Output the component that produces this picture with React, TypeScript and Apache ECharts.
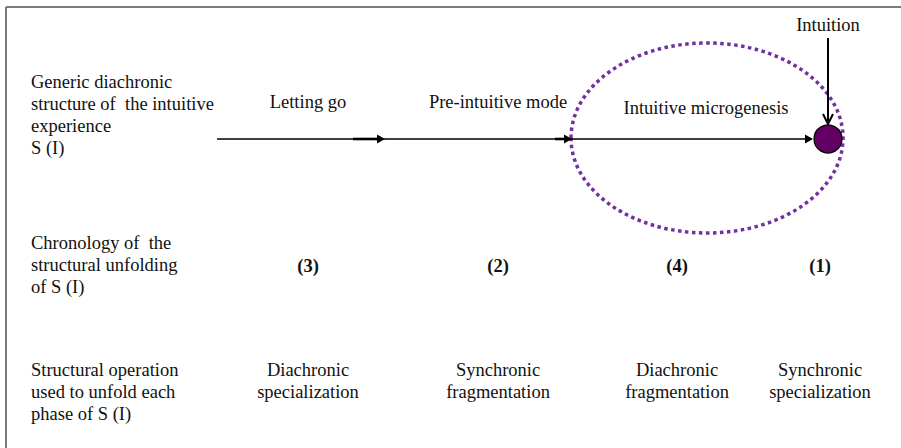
import React, { useEffect, useRef } from "react";
import * as echarts from "echarts";

// ---- content ----
const rowHeadings: string[][] = [
  ["Generic diachronic", "structure of  the intuitive", "experience", "S (I)"],
  ["Chronology of  the", "structural unfolding", "of S (I)"],
  ["Structural operation", "used to unfold each", "phase of S (I)"],
];
const phaseLabels: string[] = ["Letting go", "Pre-intuitive mode", "Intuitive microgenesis"];
const chronology: string[] = ["(3)", "(2)", "(4)", "(1)"];
const operations: string[][] = [
  ["Diachronic", "specialization"],
  ["Synchronic", "fragmentation"],
  ["Diachronic", "fragmentation"],
  ["Synchronic", "specialization"],
];
const topLabel = "Intuition";

// ---- layout (pixels) ----
const FONT = "'Liberation Serif', 'Times New Roman', serif";
const FS = 18.5;
const LH = 22;
const headX = 31;
const headTops = [71, 232, 359];
const colX = [308, 498, 677, 820];
const phaseX = [308, 498, 706];
const phaseY = [102, 102, 108];
const lineY = 139;
const lineX0 = 217;
const arrowTips = [385, 572, 813];
const circle = { cx: 828, cy: 139, r: 14 };
const ellipse = { cx: 707, cy: 138, rx: 136, ry: 95 };

export default function App() {
  const ref = useRef<HTMLDivElement>(null);
  useEffect(() => {
    if (!ref.current) return;
    const chart = echarts.init(ref.current, undefined, { renderer: "svg" });
    const els: any[] = [];
    // border
    els.push({ type: "line", shape: { x1: 6, y1: 7, x2: 901, y2: 7 }, style: { stroke: "#7a7a7a", lineWidth: 2 } });
    els.push({ type: "line", shape: { x1: 6, y1: 7, x2: 6, y2: 448 }, style: { stroke: "#7a7a7a", lineWidth: 2 } });
    // row headings
    rowHeadings.forEach((lines, i) => {
      els.push({
        type: "text",
        x: headX,
        y: headTops[i],
        style: { text: lines.join("\n"), font: `${FS}px ${FONT}`, lineHeight: LH, fill: "#111", align: "left", verticalAlign: "top" },
      });
    });
    // phase labels
    phaseLabels.forEach((t, i) => {
      els.push({
        type: "text",
        x: phaseX[i],
        y: phaseY[i],
        style: { text: t, font: `${FS}px ${FONT}`, fill: "#111", align: "center", verticalAlign: "middle" },
      });
    });
    // chronology numbers
    chronology.forEach((t, i) => {
      els.push({
        type: "text",
        x: colX[i],
        y: 266,
        style: { text: t, font: `bold ${FS}px ${FONT}`, fill: "#111", align: "center", verticalAlign: "middle" },
      });
    });
    // operations
    operations.forEach((lines, i) => {
      els.push({
        type: "text",
        x: colX[i],
        y: headTops[2],
        style: { text: lines.join("\n"), font: `${FS}px ${FONT}`, lineHeight: LH, fill: "#111", align: "center", verticalAlign: "top" },
      });
    });
    // ellipse (dotted)
    els.push({
      type: "ellipse",
      shape: ellipse,
      style: { fill: "none", stroke: "#7030a0", lineWidth: 3.5, lineDash: [3.5, 3.5] },
    });
    // main line
    els.push({ type: "line", shape: { x1: lineX0, y1: lineY, x2: arrowTips[2] - 4, y2: lineY }, style: { stroke: "#000", lineWidth: 1.6 } });
    arrowTips.forEach((tip, i) => {
      if (i < 2) {
        els.push({ type: "line", shape: { x1: tip - (i === 0 ? 32 : 17), y1: lineY, x2: tip - 6, y2: lineY }, style: { stroke: "#000", lineWidth: 2.6 } });
      }
      els.push({
        type: "polygon",
        shape: { points: [[tip, lineY], [tip - 8, lineY - 4.5], [tip - 8, lineY + 4.5]] },
        style: { fill: "#000" },
      });
    });
    // circle
    els.push({ type: "circle", shape: circle, style: { fill: "#620063", stroke: "#000", lineWidth: 1.2 } });
    // intuition label + arrow
    els.push({
      type: "text",
      x: circle.cx,
      y: 25,
      style: { text: topLabel, font: `${FS}px ${FONT}`, fill: "#111", align: "center", verticalAlign: "middle" },
    });
    els.push({ type: "line", shape: { x1: circle.cx, y1: 38, x2: circle.cx, y2: 121 }, style: { stroke: "#000", lineWidth: 2 } });
    els.push({
      type: "polyline",
      shape: { points: [[circle.cx - 5, 114], [circle.cx, 124], [circle.cx + 5, 114]] },
      style: { stroke: "#000", lineWidth: 2, fill: "none" },
    });

    chart.setOption({
      animation: false,
      backgroundColor: "#fff",
      graphic: { elements: els },
    });
    return () => chart.dispose();
  }, []);
  return <div ref={ref} style={{ position: "fixed", left: 0, top: 0, width: 901, height: 448 }} />;
}
